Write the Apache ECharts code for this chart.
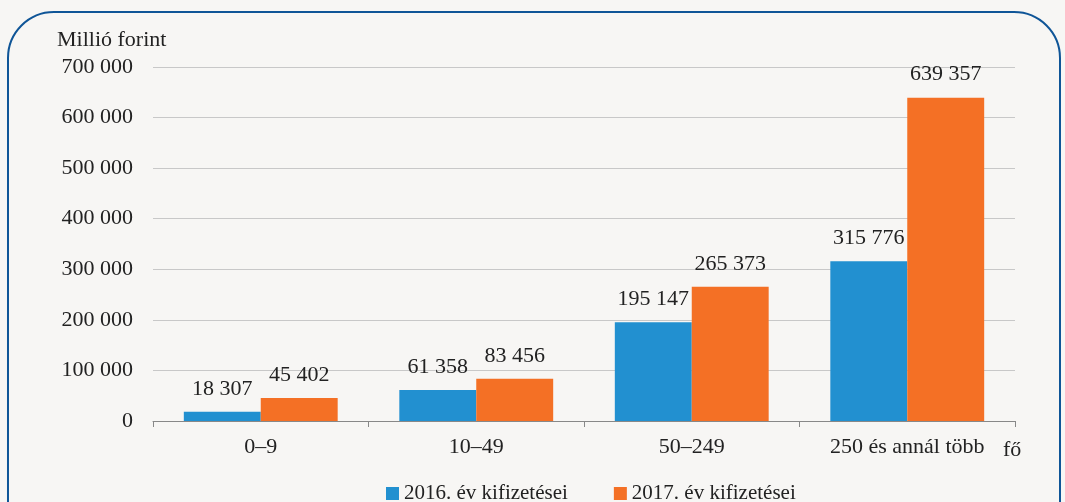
<!DOCTYPE html>
<html>
<head>
<meta charset="utf-8">
<script src="https://cdn.jsdelivr.net/npm/echarts@6/dist/echarts.min.js"></script>
<style>
html, body { margin: 0; padding: 0; background: #f7f6f4; }
#chart { width: 1065px; height: 502px; }
</style>
</head>
<body>
<div id="chart"></div>
<script>
var categories = ['0–9', '10–49', '50–249', '250 és annál több'];
var values2016 = [18307, 61358, 195147, 315776];
var values2017 = [45402, 83456, 265373, 639357];
var seriesNames = ['2016. év kifizetései', '2017. év kifizetései'];

var myChart = echarts.init(document.getElementById('chart'));
var font = 'Liberation Serif';

function fmt(v) {
    return String(v).replace(/\B(?=(\d{3})+(?!\d))/g, ' ');
}

var option = {
    backgroundColor: '#f7f6f4',
    textStyle: { fontFamily: font },
    graphic: [
        {
            type: 'rect',
            shape: { x: 8, y: 12, width: 1052, height: 540, r: 46 },
            style: { fill: 'none', stroke: '#0f5597', lineWidth: 2 }
        }
    ],
    legend: {
        top: 478,
        left: 381,
        itemWidth: 13,
        itemHeight: 13,
        itemGap: 46,
        icon: 'rect',
        textStyle: { fontFamily: font, fontSize: 21, color: '#222' },
        data: seriesNames
    },
    grid: { left: 153, right: 50, top: 67, bottom: 81 },
    xAxis: {
        type: 'category',
        data: categories,
        name: 'fő',
        nameLocation: 'end',
        nameGap: -12,
        nameTextStyle: { fontFamily: font, fontSize: 22, color: '#222', verticalAlign: 'top', padding: [18, 0, 0, 0] },
        axisLine: { lineStyle: { color: '#888' } },
        axisTick: { show: true, length: 6, lineStyle: { color: '#888' } },
        axisLabel: { fontFamily: font, fontSize: 22, color: '#222', margin: 15 }
    },
    yAxis: {
        type: 'value',
        min: 0,
        max: 700000,
        interval: 100000,
        name: 'Millió forint',
        nameLocation: 'end',
        nameGap: 16,
        nameTextStyle: { fontFamily: font, fontSize: 22, color: '#222', align: 'left', padding: [0, 0, 0, -96] },
        axisLine: { show: false },
        axisTick: { show: false },
        splitLine: { lineStyle: { color: '#c8c8c8' } },
        axisLabel: { fontFamily: font, fontSize: 22, color: '#222', margin: 20, formatter: fmt }
    },
    series: [
        {
            name: seriesNames[0],
            type: 'bar',
            data: values2016,
            barWidth: '35.7%',
            barGap: '0%',
            itemStyle: { color: '#2290d0' },
            label: { show: true, position: 'top', distance: 12, fontFamily: font, fontSize: 22, color: '#222', formatter: function (p) { return fmt(p.value); } }
        },
        {
            name: seriesNames[1],
            type: 'bar',
            data: values2017,
            barWidth: '35.7%',
            barGap: '0%',
            itemStyle: { color: '#f47025' },
            label: { show: true, position: 'top', distance: 12, fontFamily: font, fontSize: 22, color: '#222', formatter: function (p) { return fmt(p.value); } }
        }
    ]
};

option && myChart.setOption(option);
</script>
</body>
</html>
